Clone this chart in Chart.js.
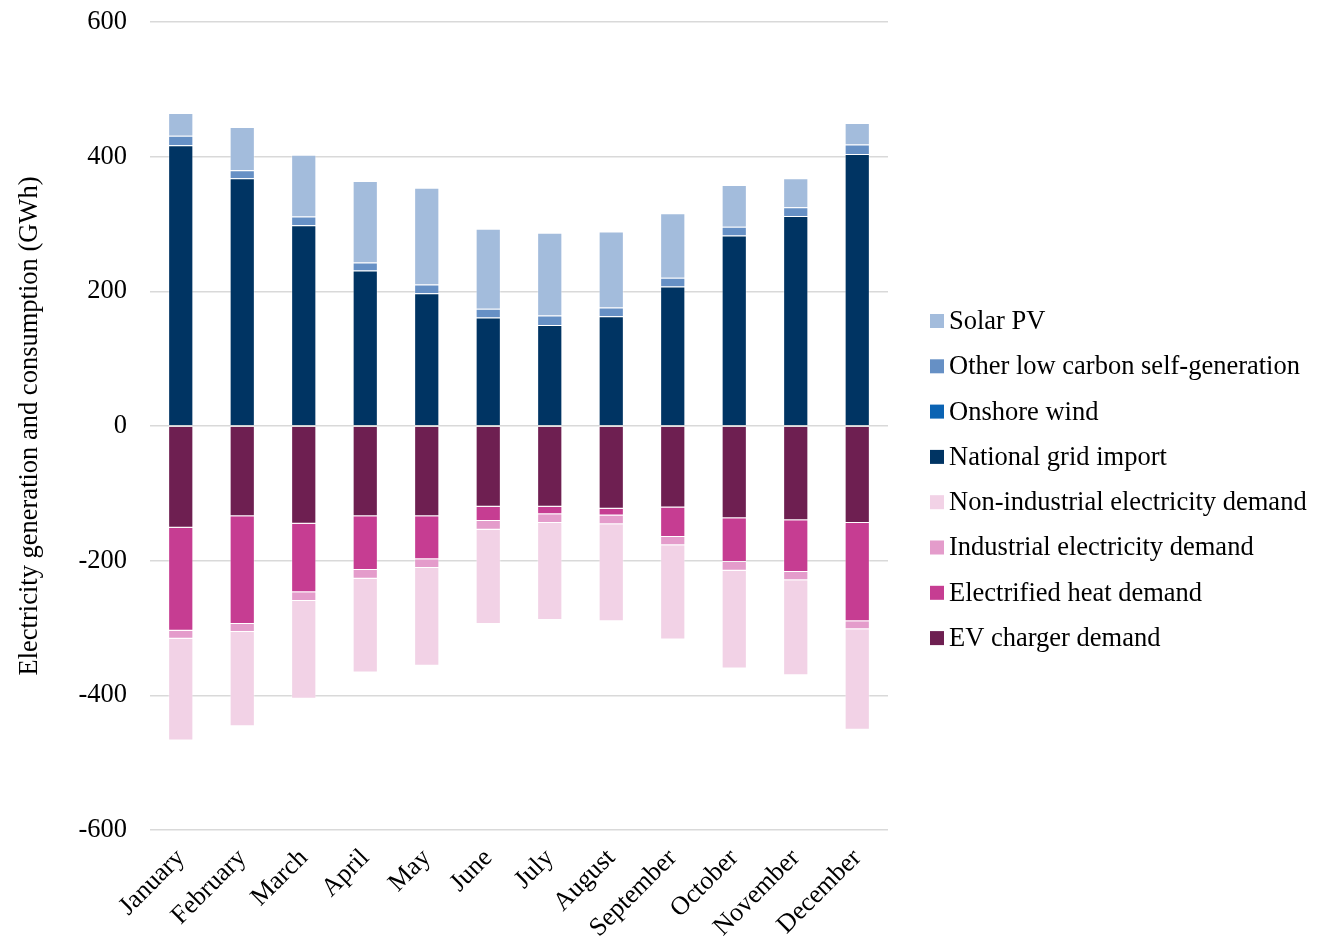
<!DOCTYPE html>
<html>
<head>
<meta charset="utf-8">
<script src="https://cdn.jsdelivr.net/npm/chart.js@4.4.1/dist/chart.umd.min.js"></script>
<style>
  html, body { margin: 0; padding: 0; background: #fff; }
  #wrap { width: 1328px; height: 940px; position: relative; }
</style>
</head>
<body>
<div id="wrap"><canvas id="chart"></canvas></div>
<script>
const months = ['January', 'February', 'March', 'April', 'May', 'June',
  'July', 'August', 'September', 'October', 'November', 'December'];

// generation (positive)
const gridImport = [417, 368, 298, 231, 197, 161, 150, 163, 207, 283, 312, 404];
const onshoreWind = [0, 0, 0, 0, 0, 0, 0, 0, 0, 0, 0, 0];
const otherLowCarbon = [14, 12, 13, 12, 13, 13, 14, 13, 13, 13, 13, 14];
const solarPV = [34, 64, 92, 121, 144, 119, 123, 113, 96, 62, 43, 32];

// consumption (negative)
const evDemand = [-151, -134, -145, -134, -134, -120, -120, -123, -121, -137, -140, -144];
const heatDemand = [-153, -160, -102, -80, -64, -21, -11, -10, -44, -65, -77, -146];
const industrialDemand = [-12, -12, -13, -13, -13, -13, -13, -13, -12, -13, -12, -12];
const nonIndustrialDemand = [-151, -140, -145, -139, -145, -140, -144, -144, -140, -145, -141, -149];

const yTicks = [-600, -400, -200, 0, 200, 400, 600];

// legend order as in the original (dataset indices)
const legendOrder = [3, 2, 1, 0, 7, 6, 5, 4];

const font = '"Liberation Serif", "Times New Roman", serif';

function ds(label, data, color) {
  return {
    label: label,
    data: data,
    backgroundColor: color,
    borderColor: 'rgba(255,255,255,0.35)',
    borderWidth: 1,
    stack: 's'
  };
}

// simple legend on the right, drawn on the canvas
const sideLegend = {
  id: 'sideLegend',
  afterDraw(chart) {
    const c = chart.ctx;
    const x = chart.chartArea.right + 42;
    let y = 321;
    c.save();
    c.font = '26.5px ' + font;
    c.textBaseline = 'middle';
    c.textAlign = 'left';
    legendOrder.forEach(i => {
      const d = chart.data.datasets[i];
      c.fillStyle = d.backgroundColor;
      c.fillRect(x, y - 7, 14, 14);
      c.fillStyle = '#000';
      c.fillText(d.label, x + 19, y + 1);
      y += 45.3;
    });
    c.restore();
  }
};

const ctx = document.getElementById('chart');
const chart = new Chart(ctx, {
  type: 'bar',
  data: {
    labels: months,
    datasets: [
      ds('National grid import', gridImport, '#003463'),
      ds('Onshore wind', onshoreWind, '#0b63b3'),
      ds('Other low carbon self-generation', otherLowCarbon, '#6690c5'),
      ds('Solar PV', solarPV, '#a3bcdc'),
      ds('EV charger demand', evDemand, '#6e1f51'),
      ds('Electrified heat demand', heatDemand, '#c63d92'),
      ds('Industrial electricity demand', industrialDemand, '#e49ccb'),
      ds('Non-industrial electricity demand', nonIndustrialDemand, '#f2d2e6')
    ]
  },
  plugins: [sideLegend],
  options: {
    responsive: true,
    maintainAspectRatio: false,
    animation: false,
    datasets: {
      bar: { categoryPercentage: 1, barPercentage: 0.41 }
    },
    layout: {
      autoPadding: false,
      padding: { top: 22, right: 440, left: 0, bottom: 0 }
    },
    scales: {
      x: {
        stacked: true,
        afterFit: s => { s.height = 110; },
        grid: { display: false },
        border: { display: false },
        ticks: {
          color: '#000',
          font: { family: font, size: 26 },
          minRotation: 45,
          maxRotation: 45,
          padding: 5
        }
      },
      y: {
        stacked: true,
        min: -600,
        max: 600,
        afterFit: s => {
          s.width = 150;
          s.paddingTop = 0;
          s.paddingBottom = 0;
        },
        afterBuildTicks: function(axis) {
          axis.ticks = yTicks.map(v => ({ value: v }));
        },
        grid: { color: '#d9d9d9', lineWidth: 1.5, drawTicks: false },
        border: { display: false },
        ticks: {
          color: '#000',
          font: { family: font, size: 26.5 },
          padding: 23
        },
        title: {
          display: true,
          text: 'Electricity generation and consumption (GWh)',
          color: '#000',
          font: { family: font, size: 26.5 },
          padding: { top: 14, bottom: 0 }
        }
      }
    },
    plugins: {
      legend: { display: false },
      tooltip: { enabled: false }
    }
  }
});
</script>
</body>
</html>
